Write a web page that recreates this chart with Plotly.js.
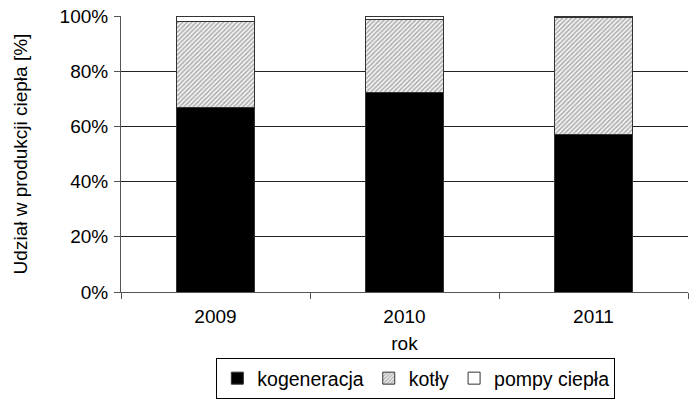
<!DOCTYPE html>
<html><head><meta charset="utf-8">
<script src="https://cdn.plot.ly/plotly-3.0.1.min.js"></script>
<style>body{margin:0;background:#fff}#c{width:697px;height:403px}</style>
</head><body><div id="c"></div>
<script>
const years = ['2009', '2010', '2011'];
const kogeneracja = [0.668, 0.722, 0.570];
const kotly = [0.311, 0.265, 0.426];
const pompy = [0.021, 0.013, 0.004];
const seriesNames = ['kogeneracja', 'kotły', 'pompy ciepła'];

const lineStyle = {color: '#333', width: 1};
const traces = [
  {type: 'bar', x: years, y: kogeneracja, name: seriesNames[0],
   marker: {color: '#000', line: lineStyle}},
  {type: 'bar', x: years, y: kotly, name: seriesNames[1],
   marker: {color: '#fff', line: lineStyle,
            pattern: {shape: '/', fgcolor: '#a8a8a8', bgcolor: '#f6f6f6', size: 3.2, solidity: 0.45}}},
  {type: 'bar', x: years, y: pompy, name: seriesNames[2],
   marker: {color: '#fff', line: lineStyle}}
];
const fam = '"Liberation Sans", Arial, sans-serif';
const layout = {
  width: 697, height: 403,
  margin: {l: 121, r: 9, t: 16, b: 111},
  barmode: 'stack', bargap: 0.59,
  paper_bgcolor: '#fff', plot_bgcolor: '#fff',
  font: {family: fam, size: 19, color: '#000'},
  showlegend: true,
  legend: {orientation: 'h', traceorder: 'normal', x: 0.52, xanchor: 'center',
           yref: 'container', y: 0.01, yanchor: 'bottom',
           bordercolor: '#000', borderwidth: 1, font: {size: 19.5, family: fam, color: '#000'},
           itemwidth: 30, tracegroupgap: 0},
  xaxis: {type: 'category', showline: true, linecolor: '#555', linewidth: 1,
          ticks: 'outside', tickson: 'boundaries', ticklen: 6, tickcolor: '#555',
          showgrid: false, tickfont: {size: 19}, ticklabelstandoff: 7,
          title: {text: 'rok', font: {size: 19}, standoff: 10}},
  yaxis: {range: [0, 1], tickvals: [0, 0.2, 0.4, 0.6, 0.8, 1], tickformat: '.0%',
          showline: true, linecolor: '#555', linewidth: 1,
          ticks: 'outside', ticklen: 6, tickcolor: '#555',
          showgrid: true, gridcolor: '#222', gridwidth: 1, zeroline: false,
          tickfont: {size: 19}, ticklabelstandoff: 2,
          title: {text: 'Udział w produkcji ciepła [%]', font: {size: 19}, standoff: 26}}
};
Plotly.newPlot('c', traces, layout, {displayModeBar: false, staticPlot: true});
</script></body></html>
